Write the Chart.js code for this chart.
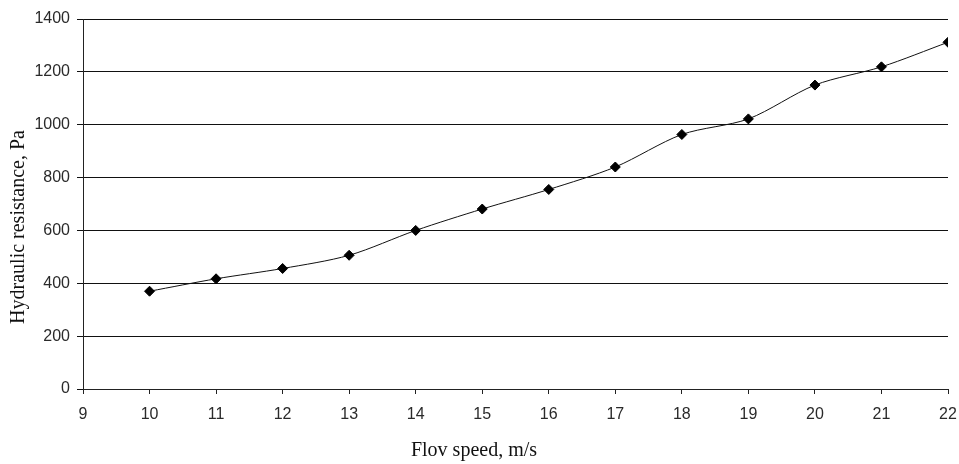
<!DOCTYPE html>
<html>
<head>
<meta charset="utf-8">
<script src="https://cdn.jsdelivr.net/npm/chart.js@4/dist/chart.umd.min.js"></script>
<style>
html,body{margin:0;padding:0;background:#fff;}
#wrap{width:959px;height:464px;position:relative;}
</style>
</head>
<body>
<div id="wrap"><canvas id="c"></canvas></div>
<script>
const speeds = [10, 11, 12, 13, 14, 15, 16, 17, 18, 19, 20, 21, 22];
const resistance = [370, 417, 456, 506, 600, 681, 755, 840, 963, 1022, 1150, 1219, 1312];
const xTitle = 'Flov speed, m/s';
const yTitle = 'Hydraulic resistance, Pa';

const points = speeds.map((s, i) => ({x: s, y: resistance[i]}));

// Axis titles drawn as canvas text at the reference's off-centre positions
const axisTitles = {
  id: 'axisTitles',
  afterDraw(chart) {
    const ctx = chart.ctx;
    ctx.save();
    ctx.fillStyle = '#111';
    ctx.font = '20px "Liberation Serif"';
    ctx.textAlign = 'center';
    ctx.textBaseline = 'middle';
    ctx.fillText(xTitle, 474, 451);
    ctx.translate(19, 227);
    ctx.rotate(-Math.PI / 2);
    ctx.fillText(yTitle, 0, 0);
    ctx.restore();
  }
};

new Chart(document.getElementById('c'), {
  type: 'scatter',
  data: {
    datasets: [{
      data: points,
      showLine: true,
      borderColor: '#111',
      borderWidth: 1,
      tension: 0.3,
      pointStyle: 'rectRot',
      pointRadius: 5,
      pointBackgroundColor: '#000',
      pointBorderColor: '#000',
      pointBorderWidth: 1
    }]
  },
  plugins: [axisTitles],
  options: {
    responsive: true,
    maintainAspectRatio: false,
    animation: false,
    layout: {padding: {left: 0, right: 11, top: 19, bottom: 0}},
    plugins: {legend: {display: false}, tooltip: {enabled: false}},
    scales: {
      x: {
        type: 'linear',
        min: 9, max: 22,
        afterFit: (s) => { s.height = 75; s.paddingLeft = 0; s.paddingRight = 0; },
        ticks: {stepSize: 1, color: '#2a2a2a', font: {family: 'Liberation Sans', size: 16}, padding: 11, maxRotation: 0},
        grid: {display: true, drawOnChartArea: false, drawTicks: true, tickLength: 5, color: '#222'},
        border: {display: true, color: '#222', width: 1}
      },
      y: {
        min: 0, max: 1400,
        afterFit: (s) => { s.width = 83; s.paddingTop = 0; s.paddingBottom = 0; },
        ticks: {stepSize: 200, color: '#2a2a2a', font: {family: 'Liberation Sans', size: 16}, padding: 7,
          callback: (v) => String(v)},
        grid: {display: true, color: '#111', tickLength: 6, drawTicks: true},
        border: {display: true, color: '#222', width: 1}
      }
    }
  }
});
</script>
</body>
</html>
